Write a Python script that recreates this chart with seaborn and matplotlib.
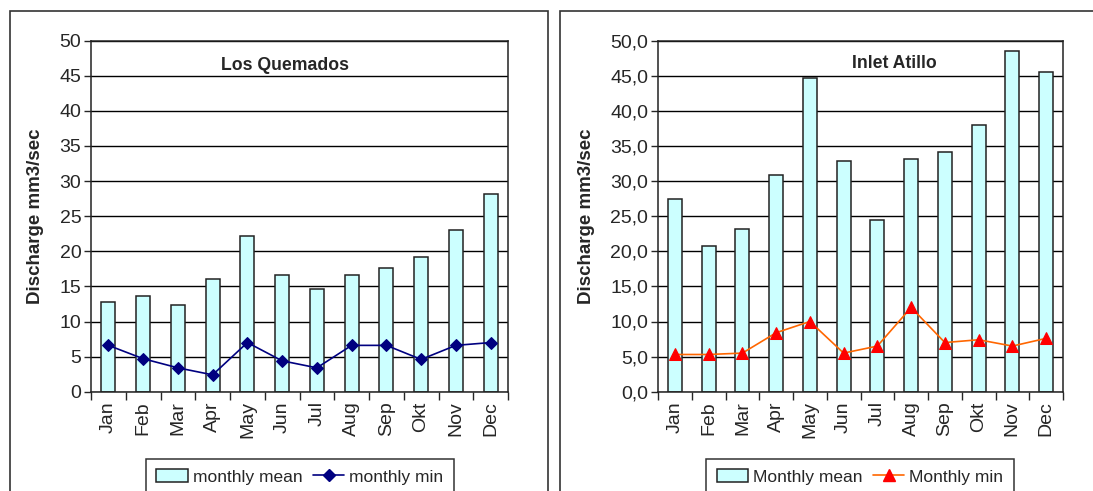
import matplotlib
matplotlib.use('Agg')
import matplotlib.pyplot as plt
from matplotlib.patches import Patch, Rectangle
from matplotlib.lines import Line2D
from matplotlib.ticker import FuncFormatter, FixedLocator
import numpy as np
import pandas as pd
import seaborn as sns

sns.set_style('white')
plt.rcParams['font.family'] = ['Liberation Sans', 'DejaVu Sans']

months = ['Jan', 'Feb', 'Mar', 'Apr', 'May', 'Jun', 'Jul', 'Aug', 'Sep', 'Okt', 'Nov', 'Dec']

# Los Quemados
lq_mean = [12.8, 13.6, 12.4, 16.0, 22.2, 16.6, 14.7, 16.6, 17.6, 19.2, 23.0, 28.2]
lq_min = [6.6, 4.7, 3.4, 2.4, 7.0, 4.4, 3.4, 6.6, 6.6, 4.6, 6.6, 7.0]

# Inlet Atillo
ia_mean = [27.4, 20.7, 23.2, 30.8, 44.7, 32.9, 24.5, 33.1, 34.2, 38.0, 48.6, 45.5]
ia_min = [5.3, 5.3, 5.5, 8.4, 10.0, 5.5, 6.5, 12.0, 7.0, 7.4, 6.5, 7.6]

bar_color = '#CCFFFF'

fig = plt.figure(figsize=(10.93, 4.91), dpi=100)

# outer chart frames (pixel coords -> fig fraction)
W, H = 1093, 491
for x0, x1 in [(10, 548), (560, 1100)]:
    fig.patches.append(Rectangle((x0 / W, -0.1), (x1 - x0) / W, 1 - 11 / H + 0.1,
                                 transform=fig.transFigure, fill=False,
                                 edgecolor='#333333', lw=1.2))


def draw(ax, means, mins, title, title_xy, line_color, marker_color, marker,
         msize, fmt, labels, ylab_x, leg_x):
    df = pd.DataFrame({'month': months, 'mean': means, 'min': mins})
    ax.set_axisbelow(True)
    ax.yaxis.grid(True, color='black', lw=1)
    sns.barplot(data=df, x='month', y='mean', color=bar_color, width=0.41,
                edgecolor='#222222', linewidth=1.1, saturation=1, ax=ax)
    sns.lineplot(x=np.arange(len(mins)), y=df['min'], color=line_color, lw=1.2,
                 marker=marker, markersize=msize, markerfacecolor=marker_color,
                 markeredgecolor=marker_color, ax=ax)
    ax.set_xlim(-0.5, 11.5)
    ax.set_ylim(0, 50)
    ax.set_yticks(np.arange(0, 51, 5))
    ax.yaxis.set_major_formatter(FuncFormatter(fmt))
    ax.tick_params(axis='y', labelsize=14, length=5, width=1, direction='out', left=True, pad=2)
    ax.tick_params(axis='x', labelsize=14, length=0, rotation=90, pad=7)
    ax.xaxis.set_minor_locator(FixedLocator(np.arange(-0.5, 12, 1)))
    ax.tick_params(axis='x', which='minor', length=6, width=1, bottom=True)
    ax.set_xlabel('')
    ax.set_ylabel('Discharge mm3/sec', fontsize=13.5, fontweight='bold')
    ax.yaxis.set_label_coords(ylab_x, 0.5)
    for s in ax.spines.values():
        s.set_visible(True)
        s.set_color('#222222')
        s.set_linewidth(1.1)
    ax.text(title_xy[0], title_xy[1], title, transform=ax.transAxes, ha='center',
            va='center', fontsize=12.7, fontweight='bold')
    handles = [Patch(facecolor=bar_color, edgecolor='#222222', lw=1.1),
               Line2D([], [], color=line_color, lw=1.2, marker=marker, markersize=msize,
                      markerfacecolor=marker_color, markeredgecolor=marker_color)]
    leg = fig.legend(handles, labels, loc='upper center', bbox_to_anchor=(leg_x, 1 - 459 / H),
                     ncol=2, fontsize=12.5, frameon=True, fancybox=False, edgecolor='black',
                     handlelength=1.8, handletextpad=0.3, columnspacing=0.6,
                     borderpad=0.6, borderaxespad=0)
    leg.get_frame().set_linewidth(1.1)


ax1 = fig.add_axes([91 / W, 1 - 391.7 / H, 417 / W, 351 / H])
ax2 = fig.add_axes([658 / W, 1 - 391.7 / H, 405 / W, 351 / H])

draw(ax1, lq_mean, lq_min, 'Los Quemados', (0.465, 0.928), '#000080', '#000080', 'D', 6,
     lambda v, p: f'{v:.0f}', ['monthly mean', 'monthly min'], -0.113, 300 / W)
draw(ax2, ia_mean, ia_min, 'Inlet Atillo', (0.583, 0.935), '#FF6600', '#FF0000', '^', 9,
     lambda v, p: f'{v:.1f}'.replace('.', ','), ['Monthly mean', 'Monthly min'], -0.156, 860 / W)

fig.savefig('out.png', dpi=100)
